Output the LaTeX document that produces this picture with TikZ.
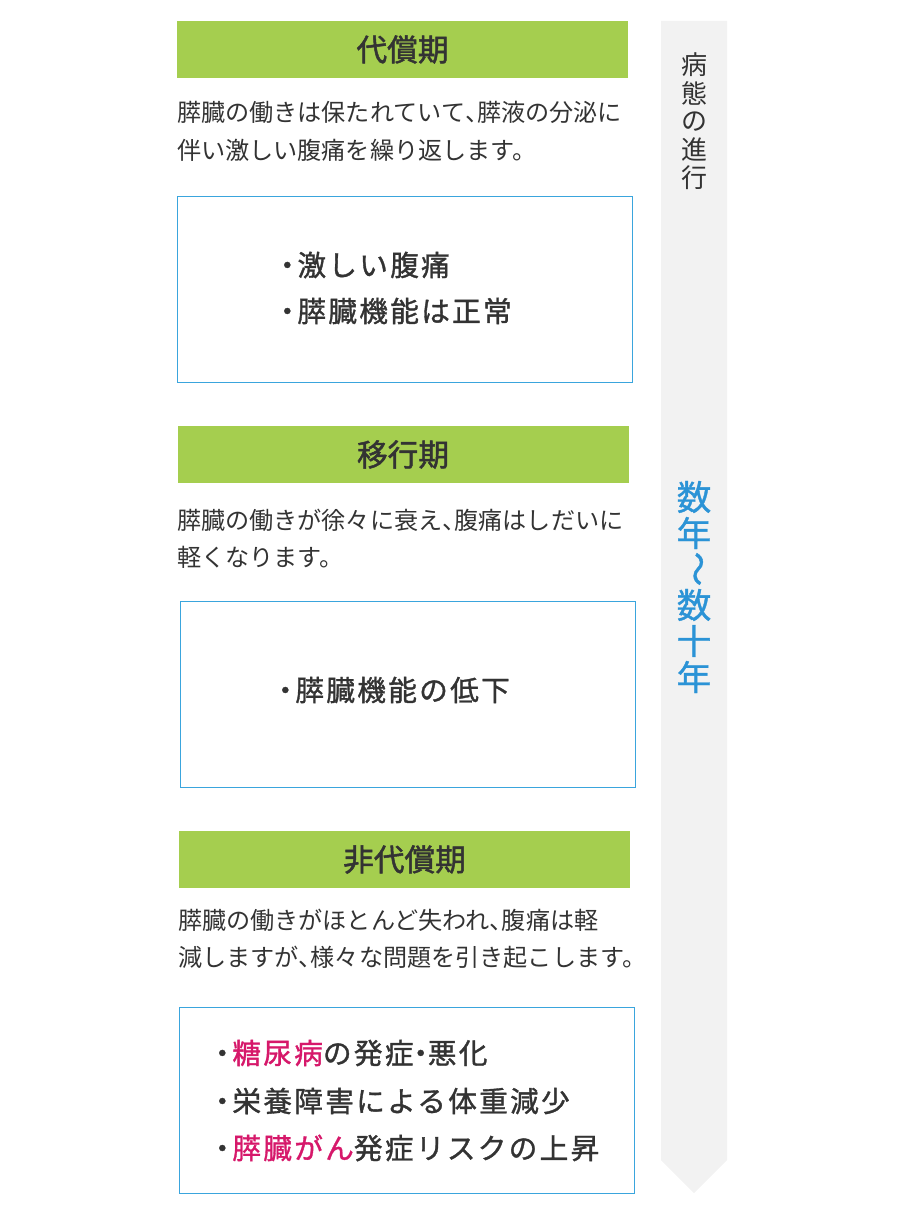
\documentclass[tikz,border=0pt]{standalone}
\usepackage{fontspec}
\usepackage{graphicx}
\setmainfont{Noto Sans CJK JP}
\newfontfamily\itemfont{Noto Sans CJK JP}[FakeBold=1.2,LetterSpace=8]
\newfontfamily\headfont{Noto Sans CJK JP}[FakeBold=1.6]
\newfontfamily\spanfont{Noto Sans CJK JP}[FakeBold=1]
\definecolor{hdgreen}{HTML}{A5CE4F}
\definecolor{boxblue}{HTML}{3AA5DD}
\definecolor{txtgray}{HTML}{333333}
\definecolor{hlpink}{HTML}{D6186A}
\definecolor{bandgray}{HTML}{F2F2F2}
\definecolor{spanblue}{HTML}{2B93D6}
\newcommand{\bul}{・\kern-.15em}
\newcommand{\mdot}{\kern-.25em・\kern-.25em}
\newcommand{\tc}{\makebox[.5em][l]{、}}

\begin{document}
\begin{tikzpicture}[x=0.75pt, y=-0.75pt,
    every node/.style={inner sep=0pt, outer sep=0pt, text=txtgray},
    header/.style={fill=hdgreen, minimum width=338.25pt, minimum height=42.75pt,
        font=\headfont\fontsize{23}{23}\selectfont},
    desc/.style={anchor=west, font=\fontsize{18.1}{18.1}\selectfont},
    panel/.style={draw=boxblue, line width=0.75pt, minimum width=341.25pt, minimum height=139.5pt},
    item/.style={anchor=west, font=\itemfont\fontsize{21.5}{21.5}\selectfont}]

    \useasboundingbox (0,0) rectangle (900,1220);

    % progression band
    \fill[bandgray] (661,21) -- (727,21) -- (727,1160) -- (694,1193) -- (661,1160) -- cycle;
    \foreach \c [count=\i] in {病,態,の,進,行}
        \node[font=\fontsize{19.5}{19.5}\selectfont] (p\i) at (694, {65+28.25*(\i-1)}) {\c};
    \foreach \c [count=\i] in {数,年,\rotatebox{-90}{〜},数,十,年}
        \node[text=spanblue, font=\spanfont\fontsize{26}{26}\selectfont] (n\i) at (694, {497+36*(\i-1)}) {\c};

    % stage 1
    \node[header] (h1) at (402.5, 49.5) {代償期};
    \node[desc] (d1a) at (177, 112) {膵臓の働きは保たれていて\tc 膵液の分泌に};
    \node[desc] (d1b) at (177, 150) {伴い激しい腹痛を繰り返します。};
    \node[panel] (b1) at (404.5, 289) {};
    \node[item] (b1a) at (273, 265) {\bul 激しい腹痛};
    \node[item] (b1b) at (273, 311) {\bul 膵臓機能は正常};

    % stage 2
    \node[header] (h2) at (403, 454.5) {移行期};
    \node[desc] (d2a) at (177, 520) {膵臓の働きが徐々に衰え\tc 腹痛はしだいに};
    \node[desc] (d2b) at (177, 557) {軽くなります。};
    \node[panel] (b2) at (407.5, 694) {};
    \node[item] (b2a) at (271, 690) {\bul 膵臓機能の低下};

    % stage 3
    \node[header] (h3) at (404.5, 859.5) {非代償期};
    \node[desc] (d3a) at (178, 920) {膵臓の働きがほとんど失われ\tc 腹痛は軽};
    \node[desc] (d3b) at (178, 957) {減しますが\tc 様々な問題を引き起こします。};
    \node[panel] (b3) at (406.5, 1100) {};
    \node[item] (b3a) at (208, 1053) {\bul\textcolor{hlpink}{糖尿病}の発症\mdot 悪化};
    \node[item] (b3b) at (208, 1101) {\bul 栄養障害による体重減少};
    \node[item] (b3c) at (208, 1148) {\bul\textcolor{hlpink}{膵臓がん}発症リスクの上昇};
\end{tikzpicture}
\end{document}
